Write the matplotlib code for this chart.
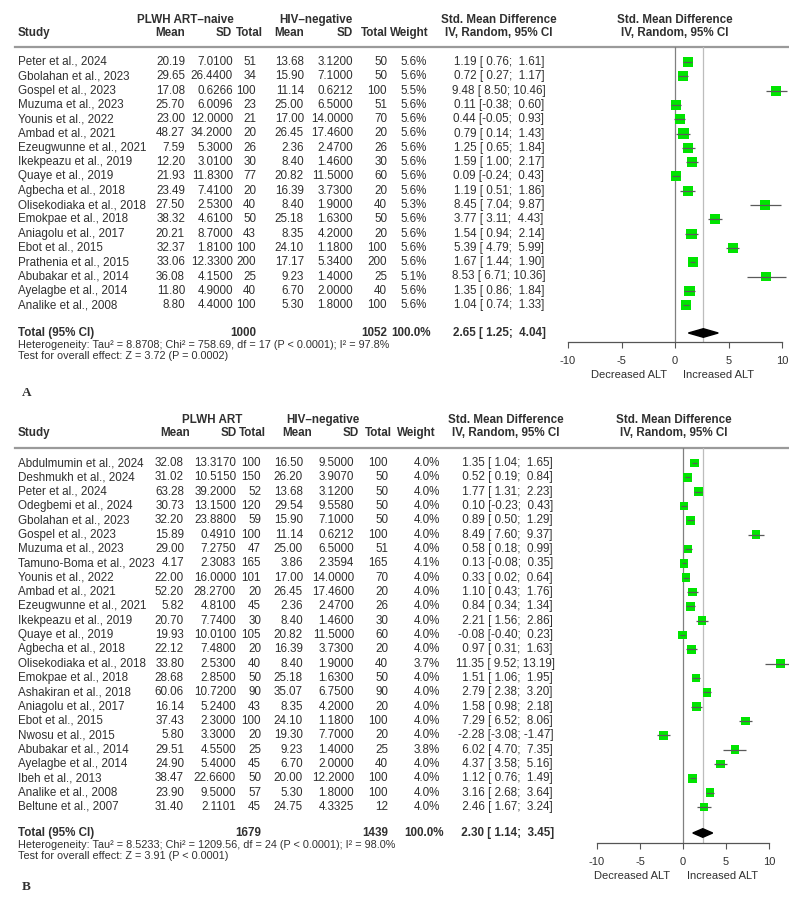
import matplotlib
matplotlib.use("Agg")
import matplotlib.pyplot as plt
from matplotlib.patches import Polygon

plt.rcParams["font.family"] = ["Liberation Sans", "DejaVu Sans"]
plt.rcParams["axes.unicode_minus"] = False

W, H = 789, 898
TXT = "#303030"
GREEN = "#00e400"

# ---------------- A: PLWH ART-naive vs HIV-negative ----------------
study_a = ["Peter et al., 2024", "Gbolahan et al., 2023", "Gospel et al., 2023",
           "Muzuma et al., 2023", "Younis et al., 2022", "Ambad et al., 2021",
           "Ezeugwunne et al., 2021", "Ikekpeazu et al., 2019", "Quaye et al., 2019",
           "Agbecha et al., 2018", "Olisekodiaka et al., 2018", "Emokpae et al., 2018",
           "Aniagolu et al., 2017", "Ebot et al., 2015", "Prathenia et al., 2015",
           "Abubakar et al., 2014", "Ayelagbe et al., 2014", "Analike et al., 2008"]
mean1_a = [20.19, 29.65, 17.08, 25.70, 23.00, 48.27, 7.59, 12.20, 21.93, 23.49,
           27.50, 38.32, 20.21, 32.37, 33.06, 36.08, 11.80, 8.80]
sd1_a = [7.0100, 26.4400, 0.6266, 6.0096, 12.0000, 34.2000, 5.3000, 3.0100, 11.8300,
         7.4100, 2.5300, 4.6100, 8.7000, 1.8100, 12.3300, 4.1500, 4.9000, 4.4000]
n1_a = [51, 34, 100, 23, 21, 20, 26, 30, 77, 20, 40, 50, 43, 100, 200, 25, 40, 100]
mean2_a = [13.68, 15.90, 11.14, 25.00, 17.00, 26.45, 2.36, 8.40, 20.82, 16.39,
           8.40, 25.18, 8.35, 24.10, 17.17, 9.23, 6.70, 5.30]
sd2_a = [3.1200, 7.1000, 0.6212, 6.5000, 14.0000, 17.4600, 2.4700, 1.4600, 11.5000,
         3.7300, 1.9000, 1.6300, 4.2000, 1.1800, 5.3400, 1.4000, 2.0000, 1.8000]
n2_a = [50, 50, 100, 51, 70, 20, 26, 30, 60, 20, 40, 50, 20, 100, 200, 25, 40, 100]
weight_a = [5.6, 5.6, 5.5, 5.6, 5.6, 5.6, 5.6, 5.6, 5.6, 5.6, 5.3, 5.6, 5.6, 5.6,
            5.6, 5.1, 5.6, 5.6]
smd_a = [1.19, 0.72, 9.48, 0.11, 0.44, 0.79, 1.25, 1.59, 0.09, 1.19, 8.45, 3.77,
         1.54, 5.39, 1.67, 8.53, 1.35, 1.04]
lo_a = [0.76, 0.27, 8.50, -0.38, -0.05, 0.14, 0.65, 1.00, -0.24, 0.51, 7.04, 3.11,
        0.94, 4.79, 1.44, 6.71, 0.86, 0.74]
hi_a = [1.61, 1.17, 10.46, 0.60, 0.93, 1.43, 1.84, 2.17, 0.43, 1.86, 9.87, 4.43,
        2.14, 5.99, 1.90, 10.36, 1.84, 1.33]
total_n_a = [1000, 1052]
pooled_a = [2.65, 1.25, 4.04]
het_a = "Heterogeneity: Tau² = 8.8708; Chi² = 758.69, df = 17 (P < 0.0001); I² = 97.8%"
test_a = "Test for overall effect: Z = 3.72 (P = 0.0002)"

# ---------------- B: PLWH ART vs HIV-negative ----------------
study_b = ["Abdulmumin et al., 2024", "Deshmukh et al., 2024", "Peter et al., 2024",
           "Odegbemi et al., 2024", "Gbolahan et al., 2023", "Gospel et al., 2023",
           "Muzuma et al., 2023", "Tamuno-Boma et al., 2023", "Younis et al., 2022",
           "Ambad et al., 2021", "Ezeugwunne et al., 2021", "Ikekpeazu et al., 2019",
           "Quaye et al., 2019", "Agbecha et al., 2018", "Olisekodiaka et al., 2018",
           "Emokpae et al., 2018", "Ashakiran et al., 2018", "Aniagolu et al., 2017",
           "Ebot et al., 2015", "Nwosu et al., 2015", "Abubakar et al., 2014",
           "Ayelagbe et al., 2014", "Ibeh et al., 2013", "Analike et al., 2008",
           "Beltune et al., 2007"]
mean1_b = [32.08, 31.02, 63.28, 30.73, 32.20, 15.89, 29.00, 4.17, 22.00, 52.20,
           5.82, 20.70, 19.93, 22.12, 33.80, 28.68, 60.06, 16.14, 37.43, 5.80,
           29.51, 24.90, 38.47, 23.90, 31.40]
sd1_b = [13.3170, 10.5150, 39.2000, 13.1500, 23.8800, 0.4910, 7.2750, 2.3083,
         16.0000, 28.2700, 4.8100, 7.7400, 10.0100, 7.4800, 2.5300, 2.8500, 10.7200,
         5.2400, 2.3000, 3.3000, 4.5500, 5.4000, 22.6600, 9.5000, 2.1101]
n1_b = [100, 150, 52, 120, 59, 100, 47, 165, 101, 20, 45, 30, 105, 20, 40, 50, 90,
        43, 100, 20, 25, 45, 50, 57, 45]
mean2_b = [16.50, 26.20, 13.68, 29.54, 15.90, 11.14, 25.00, 3.86, 17.00, 26.45,
           2.36, 8.40, 20.82, 16.39, 8.40, 25.18, 35.07, 8.35, 24.10, 19.30, 9.23,
           6.70, 20.00, 5.30, 24.75]
sd2_b = [9.5000, 3.9070, 3.1200, 9.5580, 7.1000, 0.6212, 6.5000, 2.3594, 14.0000,
         17.4600, 2.4700, 1.4600, 11.5000, 3.7300, 1.9000, 1.6300, 6.7500, 4.2000,
         1.1800, 7.7000, 1.4000, 2.0000, 12.2000, 1.8000, 4.3325]
n2_b = [100, 50, 50, 50, 50, 100, 51, 165, 70, 20, 26, 30, 60, 20, 40, 50, 90, 20,
        100, 20, 25, 40, 100, 100, 12]
weight_b = [4.0, 4.0, 4.0, 4.0, 4.0, 4.0, 4.0, 4.1, 4.0, 4.0, 4.0, 4.0, 4.0, 4.0,
            3.7, 4.0, 4.0, 4.0, 4.0, 4.0, 3.8, 4.0, 4.0, 4.0, 4.0]
smd_b = [1.35, 0.52, 1.77, 0.10, 0.89, 8.49, 0.58, 0.13, 0.33, 1.10, 0.84, 2.21,
         -0.08, 0.97, 11.35, 1.51, 2.79, 1.58, 7.29, -2.28, 6.02, 4.37, 1.12, 3.16,
         2.46]
lo_b = [1.04, 0.19, 1.31, -0.23, 0.50, 7.60, 0.18, -0.08, 0.02, 0.43, 0.34, 1.56,
        -0.40, 0.31, 9.52, 1.06, 2.38, 0.98, 6.52, -3.08, 4.70, 3.58, 0.76, 2.68,
        1.67]
hi_b = [1.65, 0.84, 2.23, 0.43, 1.29, 9.37, 0.99, 0.35, 0.64, 1.76, 1.34, 2.86,
        0.23, 1.63, 13.19, 1.95, 3.20, 2.18, 8.06, -1.47, 7.35, 5.16, 1.49, 3.64,
        3.24]
total_n_b = [1679, 1439]
pooled_b = [2.30, 1.14, 3.45]
het_b = "Heterogeneity: Tau² = 8.5233; Chi² = 1209.56, df = 24 (P < 0.0001); I² = 98.0%"
test_b = "Test for overall effect: Z = 3.91 (P < 0.0001)"

# pixel layout of the two panels (y measured from the top of the figure)
LAY_A = dict(grp_y=20, sub_y=33, line_y=47, y0=62, dy=14.3, tot_y=333, axis_y=342,
             fx0=568, fx1=782, m1=185, s1=233, n1=256, m2=304, s2=353, n2=387,
             wt=427, hm1=185, hs1=232, hn1=263, hm2=304, hs2=353, hn2=388, hwt=429,
             g1=185, g2=316, ci=499, fh=675, lab_off=(-6, 6), tag_y=393)
LAY_B = dict(grp_y=420, sub_y=433, line_y=448, y0=463, dy=14.33, tot_y=833, axis_y=843,
             fx0=597, fx1=769, m1=184, s1=236, n1=261, m2=303, s2=354, n2=388,
             wt=440, hm1=190, hs1=237, hn1=266, hm2=312, hs2=359, hn2=392, hwt=436,
             g1=212, g2=323, ci=506, fh=674, lab_off=(-9, 3), tag_y=887)

fig = plt.figure(figsize=(W / 100, H / 100), dpi=100)
tab = fig.add_axes([0, 0, 1, 1])
tab.set_xlim(0, W)
tab.set_ylim(H, 0)
tab.axis("off")


def t(x, y, s, ha="right", bold=False, size=8.4):
    tab.text(x, y, s, ha=ha, va="center", fontsize=size, color=TXT,
             fontweight="bold" if bold else "normal")


def panel(study, m1, s1, n1, m2, s2, n2, wt, est, lo, hi, tot_n, pooled, het, test,
          grp1, L, tag):
    # headers
    t(L["g1"], L["grp_y"], grp1, ha="center", bold=True)
    t(L["g2"], L["grp_y"], "HIV\u2013negative", ha="center", bold=True)
    t(L["ci"], L["grp_y"], "Std. Mean Difference", ha="center", bold=True)
    t(L["fh"], L["grp_y"], "Std. Mean Difference", ha="center", bold=True)
    t(18, L["sub_y"], "Study", ha="left", bold=True)
    for key, lab in [("hm1", "Mean"), ("hs1", "SD"), ("hn1", "Total"), ("hm2", "Mean"),
                     ("hs2", "SD"), ("hn2", "Total"), ("hwt", "Weight")]:
        t(L[key], L["sub_y"], lab, bold=True)
    t(L["ci"], L["sub_y"], "IV, Random, 95% CI", ha="center", bold=True)
    t(L["fh"], L["sub_y"], "IV, Random, 95% CI", ha="center", bold=True)
    tab.plot([15, W], [L["line_y"], L["line_y"]], color="#9a9a9a", lw=1.6)

    # R-style padded "est [lo; hi]" strings, centred under the header
    we = max(len(f"{v:.2f}") for v in est)
    wl = max(len(f"{v:.2f}") for v in lo)
    wh = max(len(f"{v:.2f}") for v in hi)

    def ci_str(e, a, b):
        return f"{e:{we}.2f} [{a:{wl}.2f}; {b:{wh}.2f}]"

    # study rows
    for i in range(len(study)):
        y = L["y0"] + i * L["dy"]
        t(18, y, study[i], ha="left")
        t(L["m1"], y, f"{m1[i]:.2f}")
        t(L["s1"], y, f"{s1[i]:.4f}")
        t(L["n1"], y, f"{n1[i]}")
        t(L["m2"], y, f"{m2[i]:.2f}")
        t(L["s2"], y, f"{s2[i]:.4f}")
        t(L["n2"], y, f"{n2[i]}")
        t(L["wt"], y, f"{wt[i]:.1f}%")
        t(L["ci"], y, ci_str(est[i], lo[i], hi[i]), ha="center")

    # total + footnotes
    ty = L["tot_y"]
    t(18, ty, "Total (95% CI)", ha="left", bold=True)
    t(L["n1"], ty, f"{tot_n[0]}", bold=True)
    t(L["n2"], ty, f"{tot_n[1]}", bold=True)
    t(L["wt"] + 4, ty, "100.0%", bold=True)
    t(L["ci"], ty, ci_str(*pooled), ha="center", bold=True)
    t(18, ty + 12, het, ha="left", size=7.8)
    t(18, ty + 23, test, ha="left", size=7.8)
    tab.text(22, L["tag_y"], tag, ha="left", va="center", fontsize=9.5,
             family="Liberation Serif", fontweight="bold", color=TXT)

    # forest plot
    ax = fig.add_axes([L["fx0"] / W, 1 - L["axis_y"] / H, (L["fx1"] - L["fx0"]) / W,
                       (L["axis_y"] - L["line_y"]) / H])
    ax.patch.set_alpha(0)
    ax.set_xlim(-10, 10)
    ax.set_ylim((L["axis_y"] - L["y0"]) / L["dy"], (L["line_y"] - L["y0"]) / L["dy"])
    rows = list(range(len(study)))
    ax.axvline(0, color="#808080", lw=0.9, zorder=1)
    ax.axvline(pooled[0], color="#bdbdbd", lw=0.9, zorder=1)
    sizes = [(4.3 * w ** 0.5 * 0.72) ** 2 for w in wt]
    ax.scatter(est, rows, marker="s", s=sizes, color=GREEN, edgecolors="none",
               zorder=3, clip_on=False)
    ax.hlines(rows, lo, hi, color="#5a5a5a", lw=0.9, zorder=4, clip_on=False)
    rt = (ty - L["y0"]) / L["dy"]
    ax.add_patch(Polygon([[pooled[1], rt], [pooled[0], rt - 0.3], [pooled[2], rt],
                          [pooled[0], rt + 0.3]], closed=True, color="black", zorder=5))
    for side in ("top", "left", "right"):
        ax.spines[side].set_visible(False)
    ax.spines["bottom"].set_color("#555555")
    ax.spines["bottom"].set_linewidth(0.9)
    ax.set_yticks([])
    ax.set_xticks([-10, -5, 0, 5, 10])
    ax.tick_params(axis="x", length=4, width=0.8, color="#555555", labelcolor=TXT,
                   labelsize=8, pad=6)
    dl, dr = L["lab_off"]
    ax.annotate("Decreased ALT", xy=(0, 0), xycoords=("data", "axes fraction"),
                xytext=(dl, -24), textcoords="offset points", ha="right", va="center",
                fontsize=8, color=TXT)
    ax.annotate("Increased ALT", xy=(0, 0), xycoords=("data", "axes fraction"),
                xytext=(dr, -24), textcoords="offset points", ha="left", va="center",
                fontsize=8, color=TXT)


panel(study_a, mean1_a, sd1_a, n1_a, mean2_a, sd2_a, n2_a, weight_a, smd_a, lo_a, hi_a,
      total_n_a, pooled_a, het_a, test_a, "PLWH ART\u2013naive", LAY_A, "A")
panel(study_b, mean1_b, sd1_b, n1_b, mean2_b, sd2_b, n2_b, weight_b, smd_b, lo_b, hi_b,
      total_n_b, pooled_b, het_b, test_b, "PLWH ART", LAY_B, "B")

fig.savefig("out.png", dpi=100)
